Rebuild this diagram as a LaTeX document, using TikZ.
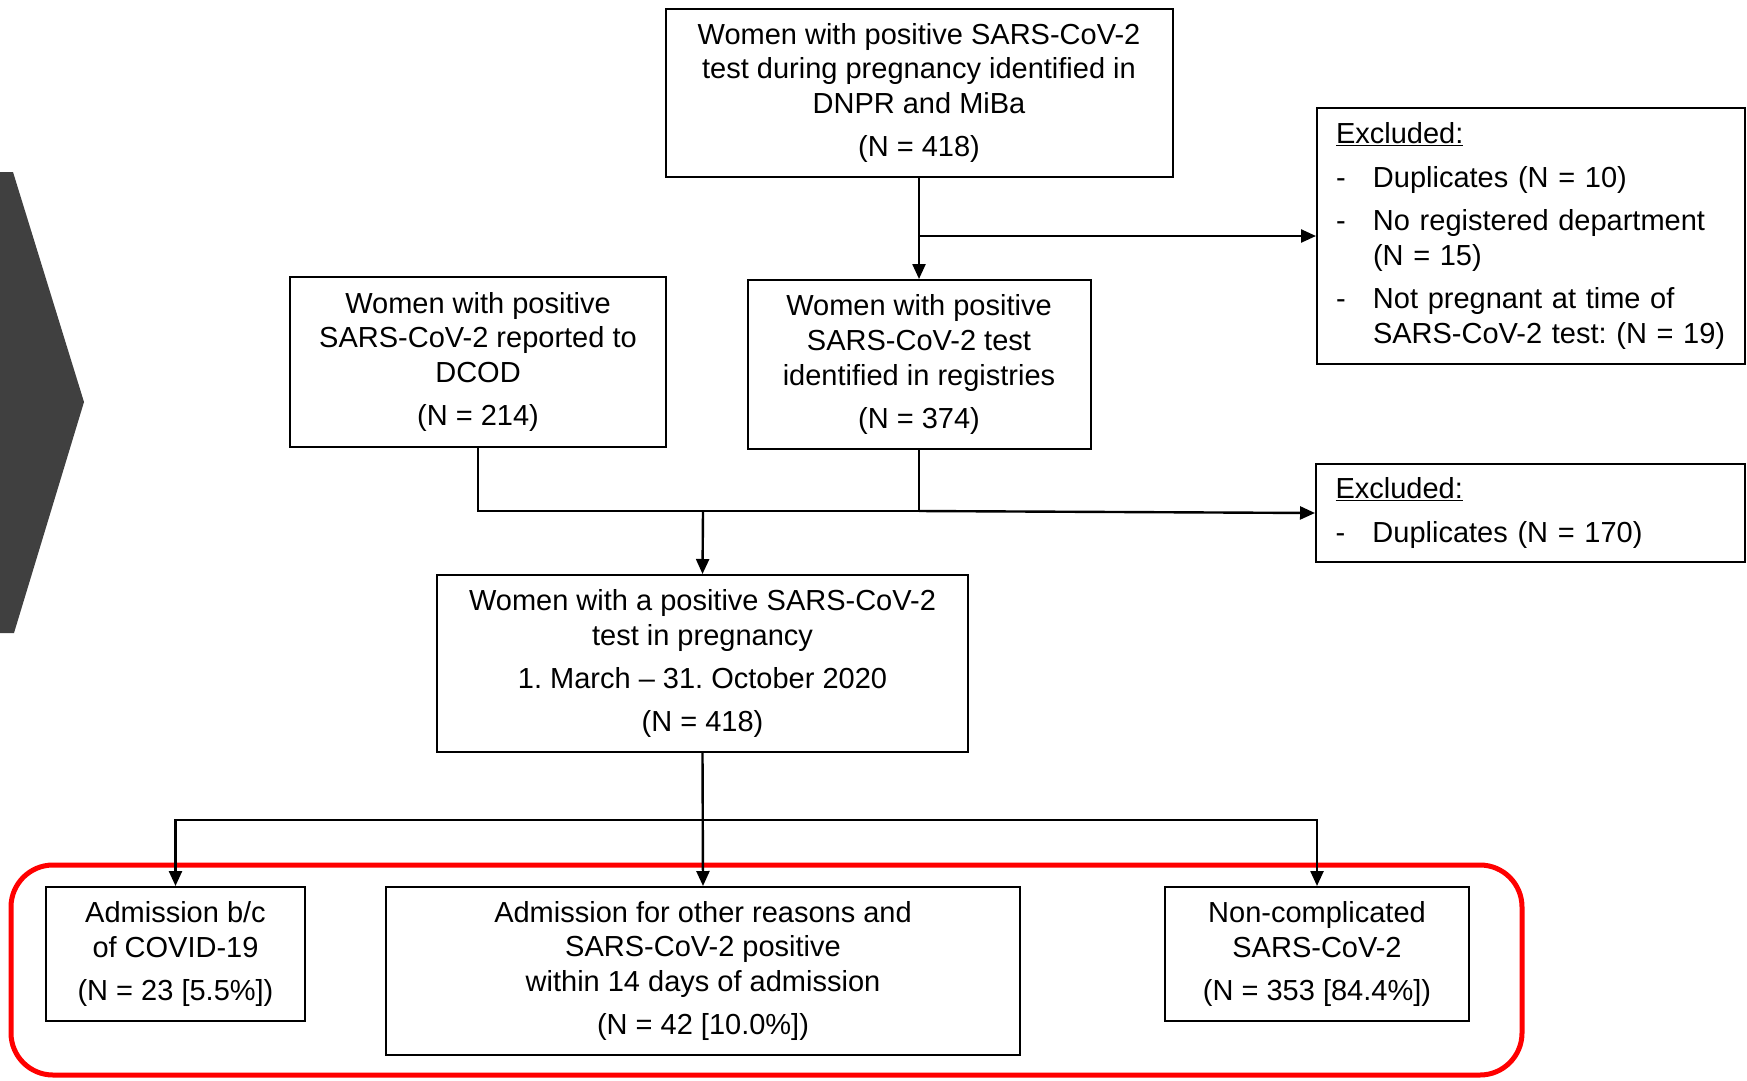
\documentclass[tikz,border=0pt]{standalone}
\usepackage{fontspec}
\setmainfont{Liberation Sans}
\usetikzlibrary{arrows.meta}
\frenchspacing
\tikzset{
  box/.style={draw=black, line width=2pt, align=center, inner sep=0pt,
    font=\fontsize{29}{34.8}\selectfont\frenchspacing},
  exbox/.style={box, align=left},
  conn/.style={line width=2.4pt},
  arr/.style={conn, -{Triangle[length=15pt,width=13pt]}},
  chevron/.style={fill=black!75, draw=none},
  redframe/.style={draw=red, line width=5pt, rounded corners=42pt},
}
\newcommand{\dashitem}{\makebox[37pt][l]{-}}
\newcommand{\hang}{\hspace*{37pt}}
\begin{document}
\begin{tikzpicture}[x=1pt,y=-1pt]
\useasboundingbox (0,0) rectangle (1747,1080);

% chevron
\fill[chevron] (0,172) -- (13,172) -- (84,402) -- (14,633) -- (0,633) -- cycle;

% red frame
\draw[redframe] (11,865) rectangle (1522,1075);

\node[box, minimum width=507pt, minimum height=168pt] (top) at (919,93)
  {Women with positive SARS-CoV-2\\test during pregnancy identified in\\DNPR and MiBa\\[8.5pt](N = 418)};

\node[exbox, minimum width=428pt, minimum height=256pt, text width=400pt] (ex1) at (1531,236)
  {\hspace*{5pt}\underline{Excluded:}\\[8.5pt]
   \hspace*{5pt}\dashitem Duplicates (N = 10)\\[8.5pt]
   \hspace*{5pt}\dashitem No registered department\\
   \hspace*{5pt}\hang(N = 15)\\[8.5pt]
   \hspace*{5pt}\dashitem Not pregnant at time of\\
   \hspace*{5pt}\hang SARS-CoV-2 test: (N = 19)};

\node[box, minimum width=376pt, minimum height=170pt] (dcod) at (478,362)
  {Women with positive\\SARS-CoV-2 reported to\\DCOD\\[8.5pt](N = 214)};

\node[box, minimum width=343pt, minimum height=169pt] (reg) at (919,364.5)
  {Women with positive\\SARS-CoV-2 test\\identified in registries\\[8.5pt](N = 374)};

\node[exbox, minimum width=429pt, minimum height=98pt, text width=400pt] (ex2) at (1530.5,513)
  {\hspace*{5pt}\underline{Excluded:}\\[8.5pt]
   \hspace*{5pt}\dashitem Duplicates (N = 170)};

\node[box, minimum width=531pt, minimum height=177pt] (mid) at (702.5,663.5)
  {Women with a positive SARS-CoV-2\\test in pregnancy\\[8.5pt]1. March -- 31. October 2020\\[8.5pt](N = 418)};

\node[box, minimum width=259pt, minimum height=134pt] (A) at (175.5,954)
  {Admission b/c\\of COVID-19\\[8.5pt](N = 23 [5.5\%])};

\node[box, minimum width=634pt, minimum height=168pt] (B) at (703,971)
  {Admission for other reasons and\\SARS-CoV-2 positive\\within 14 days of admission\\[8.5pt](N = 42 [10.0\%])};

\node[box, minimum width=304pt, minimum height=134pt] (C) at (1317,954)
  {Non-complicated\\SARS-CoV-2\\[8.5pt](N = 353 [84.4\%])};

% connectors
\coordinate (j1) at (919,236);
\draw[arr] (top.south) -- (reg.north);
\draw[arr] (j1) -- (ex1.west);

\coordinate (j2) at (703,511);
\coordinate (j2r) at (919,511);
\draw[conn] (dcod.south) |- (j2r) -- (reg.south);
\draw[arr] (j2) -- (mid.north);
\draw[arr] (j2r) -- (ex2.west);

\coordinate (j3) at (703,820);
\draw[arr] (mid.south) -- (B.north);
\draw[arr] (j3) -| (A.north);
\draw[arr] (j3) -| (C.north);
\end{tikzpicture}
\end{document}
